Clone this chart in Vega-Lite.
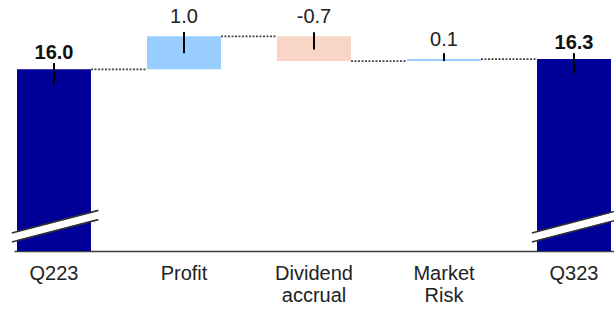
{
  "$schema": "https://vega.github.io/schema/vega-lite/v6.json",
  "width": 600,
  "height": 251,
  "autosize": {"type": "none"},
  "padding": {"left": 14, "top": 0, "right": 0, "bottom": 62},
  "config": {"view": {"stroke": null}, "font": "Liberation Sans"},
  "datasets": {
    "bars": [
      {"cat": "Q223", "start": 10.5, "end": 16.0, "top": 16.0, "label": "16.0", "type": "total", "tick_hi": 16.19, "tick_lo": 15.55},
      {"cat": "Profit", "start": 16.0, "end": 17.0, "top": 17.0, "label": "1.0", "type": "up", "tick_hi": 17.13, "tick_lo": 16.49},
      {"cat": "Dividend accrual", "start": 17.0, "end": 16.25, "top": 17.0, "label": "-0.7", "type": "down", "tick_hi": 17.12, "tick_lo": 16.6},
      {"cat": "Market Risk", "start": 16.25, "end": 16.31, "top": 16.31, "label": "0.1", "type": "up", "tick_hi": 16.49, "tick_lo": 16.25},
      {"cat": "Q323", "start": 10.5, "end": 16.31, "top": 16.31, "label": "16.3", "type": "total", "tick_hi": 16.49, "tick_lo": 15.88}
    ],
    "links": [
      {"from": "Q223", "to": "Profit", "level": 16.0},
      {"from": "Profit", "to": "Dividend accrual", "level": 17.0},
      {"from": "Dividend accrual", "to": "Market Risk", "level": 16.25},
      {"from": "Market Risk", "to": "Q323", "level": 16.31}
    ],
    "breaks": [
      {"cat": "Q223", "lo_l": 10.77, "lo_r": 11.45, "hi_l": 11.045, "hi_r": 11.73, "mid_l": 10.91, "mid_r": 11.59},
      {"cat": "Q323", "lo_l": 10.77, "lo_r": 11.45, "hi_l": 11.045, "hi_r": 11.73, "mid_l": 10.91, "mid_r": 11.59}
    ]
  },
  "layer": [
    {
      "data": {"name": "links"},
      "mark": {"type": "rule", "color": "#444444", "strokeWidth": 1.6, "strokeDash": [2, 1.5]},
      "encoding": {
        "x": {"field": "from", "type": "nominal", "bandPosition": 1, "scale": {"domain": ["Q223", "Profit", "Dividend accrual", "Market Risk", "Q323"], "paddingInner": 0.431, "paddingOuter": 0.023}},
        "x2": {"field": "to", "bandPosition": 0},
        "y": {"field": "level", "type": "quantitative", "scale": {"domain": [10.5, 18.1], "nice": false, "zero": false}, "axis": null}
      }
    },
    {
      "data": {"name": "bars"},
      "mark": {"type": "bar"},
      "encoding": {
        "x": {"field": "cat", "type": "nominal",
          "scale": {"domain": ["Q223", "Profit", "Dividend accrual", "Market Risk", "Q323"], "paddingInner": 0.431, "paddingOuter": 0.023},
          "axis": {"title": null, "ticks": false, "labelAngle": 0, "labelAlign": "center", "labelFontSize": 20, "labelFont": "Liberation Sans", "labelColor": "#222222", "labelPadding": 22, "labelLineHeight": 22, "labelExpr": "split(datum.label, ' ')", "domainColor": "#404040", "domainWidth": 1.5}},
        "y": {"field": "start", "type": "quantitative", "scale": {"domain": [10.5, 18.1], "nice": false, "zero": false}, "axis": null},
        "y2": {"field": "end"},
        "color": {"field": "type", "type": "nominal", "scale": {"domain": ["total", "up", "down"], "range": ["#000099", "#99CCFF", "#F9D5C5"]}, "legend": null}
      }
    },
    {
      "data": {"name": "breaks"},
      "mark": {"type": "rule", "color": "#ffffff", "strokeWidth": 8},
      "encoding": {
        "x": {"field": "cat", "type": "nominal", "bandPosition": -0.07},
        "x2": {"field": "cat", "bandPosition": 1.1},
        "y": {"field": "mid_l", "type": "quantitative"},
        "y2": {"field": "mid_r"}
      }
    },
    {
      "data": {"name": "breaks"},
      "mark": {"type": "rule", "color": "#333333", "strokeWidth": 1.6},
      "encoding": {
        "x": {"field": "cat", "type": "nominal", "bandPosition": -0.07},
        "x2": {"field": "cat", "bandPosition": 1.1},
        "y": {"field": "hi_l", "type": "quantitative"},
        "y2": {"field": "hi_r"}
      }
    },
    {
      "data": {"name": "breaks"},
      "mark": {"type": "rule", "color": "#333333", "strokeWidth": 1.6},
      "encoding": {
        "x": {"field": "cat", "type": "nominal", "bandPosition": -0.07},
        "x2": {"field": "cat", "bandPosition": 1.1},
        "y": {"field": "lo_l", "type": "quantitative"},
        "y2": {"field": "lo_r"}
      }
    },
    {
      "data": {"name": "bars"},
      "mark": {"type": "rule", "color": "#000000", "strokeWidth": 2},
      "encoding": {
        "x": {"field": "cat", "type": "nominal"},
        "y": {"field": "tick_hi", "type": "quantitative"},
        "y2": {"field": "tick_lo"}
      }
    },
    {
      "data": {"name": "bars"},
      "transform": [{"filter": "datum.type != 'total'"}],
      "mark": {"type": "text", "fontSize": 20, "font": "Liberation Sans", "color": "#222222", "baseline": "alphabetic", "dy": -13},
      "encoding": {
        "x": {"field": "cat", "type": "nominal"},
        "y": {"field": "top", "type": "quantitative"},
        "text": {"field": "label"}
      }
    },
    {
      "data": {"name": "bars"},
      "transform": [{"filter": "datum.type == 'total'"}],
      "mark": {"type": "text", "fontSize": 20, "fontWeight": "bold", "font": "Liberation Sans", "color": "#111111", "baseline": "alphabetic", "dy": -10},
      "encoding": {
        "x": {"field": "cat", "type": "nominal"},
        "y": {"field": "top", "type": "quantitative"},
        "text": {"field": "label"}
      }
    }
  ]
}
